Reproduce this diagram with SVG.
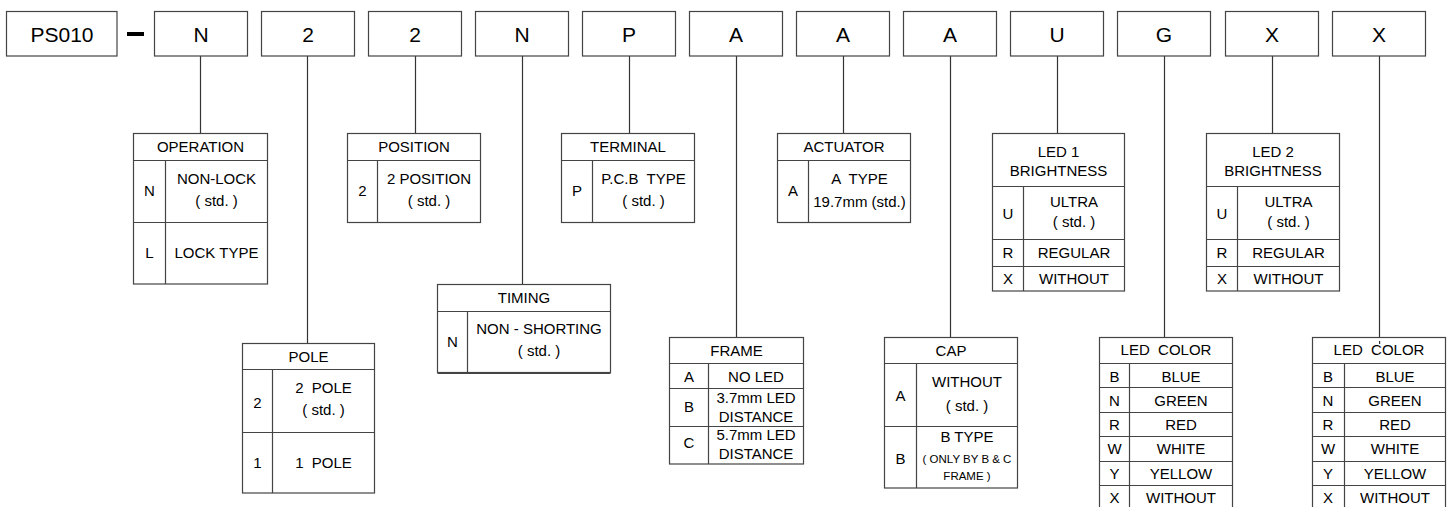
<svg xmlns="http://www.w3.org/2000/svg" width="1454" height="507" viewBox="0 0 1454 507">
<style>
text{font-family:"Liberation Sans",Arial,sans-serif;fill:#000;text-anchor:middle}
.big{font-size:21px}
.t{font-size:15px}
.s{font-size:11.5px}
.box{fill:#fff;stroke:#444;stroke-width:1.2}
.ln{stroke:#444;stroke-width:1.2;fill:none}
.cn{stroke:#333;stroke-width:1.2;fill:none}
</style>
<rect width="1454" height="507" fill="#fff"/>
<g id="connectors">
<line class="cn" x1="200.5" y1="56" x2="200.5" y2="133.5"/>
<line class="cn" x1="307.5" y1="56" x2="307.5" y2="343.5"/>
<line class="cn" x1="415.5" y1="56" x2="415.5" y2="133.5"/>
<line class="cn" x1="522.5" y1="56" x2="522.5" y2="284.5"/>
<line class="cn" x1="629.5" y1="56" x2="629.5" y2="133.5"/>
<line class="cn" x1="736.5" y1="56" x2="736.5" y2="337.5"/>
<line class="cn" x1="843.5" y1="56" x2="843.5" y2="133.5"/>
<line class="cn" x1="950.5" y1="56" x2="950.5" y2="337.5"/>
<line class="cn" x1="1057.5" y1="56" x2="1057.5" y2="133.5"/>
<line class="cn" x1="1164.5" y1="56" x2="1164.5" y2="337.5"/>
<line class="cn" x1="1272.5" y1="56" x2="1272.5" y2="133.5"/>
<line class="cn" x1="1379.5" y1="56" x2="1379.5" y2="337.5"/>
</g>
<g id="code">
<rect class="box" x="6.5" y="11.5" width="110.5" height="44.5"/><text class="big" x="62" y="42">PS010</text>
<rect x="127" y="32" width="17" height="4" fill="#000"/>
<g id="c1"><rect class="box" x="154.5" y="11.5" width="93" height="44.5"/><text class="big" x="201" y="42">N</text></g>
<g id="c2"><rect class="box" x="261.5" y="11.5" width="93" height="44.5"/><text class="big" x="308" y="42">2</text></g>
<g id="c3"><rect class="box" x="368.5" y="11.5" width="93" height="44.5"/><text class="big" x="415" y="42">2</text></g>
<g id="c4"><rect class="box" x="475.5" y="11.5" width="93" height="44.5"/><text class="big" x="522" y="42">N</text></g>
<g id="c5"><rect class="box" x="582.5" y="11.5" width="93" height="44.5"/><text class="big" x="629" y="42">P</text></g>
<g id="c6"><rect class="box" x="689.5" y="11.5" width="93" height="44.5"/><text class="big" x="736" y="42">A</text></g>
<g id="c7"><rect class="box" x="796.5" y="11.5" width="93" height="44.5"/><text class="big" x="843" y="42">A</text></g>
<g id="c8"><rect class="box" x="903.5" y="11.5" width="93" height="44.5"/><text class="big" x="950" y="42">A</text></g>
<g id="c9"><rect class="box" x="1010.5" y="11.5" width="93" height="44.5"/><text class="big" x="1057" y="42">U</text></g>
<g id="c10"><rect class="box" x="1117.5" y="11.5" width="93" height="44.5"/><text class="big" x="1164" y="42">G</text></g>
<g id="c11"><rect class="box" x="1225.5" y="11.5" width="93" height="44.5"/><text class="big" x="1272" y="42">X</text></g>
<g id="c12"><rect class="box" x="1332.5" y="11.5" width="93" height="44.5"/><text class="big" x="1379" y="42">X</text></g>
</g>
<g id="operation">
<rect class="box" x="133.5" y="133.5" width="134" height="150.5"/>
<path class="ln" d="M133.5 160.5H267.5M133.5 222.5H267.5M165.5 160.5V284"/>
<text class="t" x="200.5" y="152">OPERATION</text>
<text class="t" x="149.5" y="196">N</text><text class="t" x="216.5" y="184">NON-LOCK</text><text class="t" x="216.5" y="206">( std. )</text>
<text class="t" x="149.5" y="258">L</text><text class="t" x="216.5" y="258">LOCK TYPE</text>
</g>
<g id="position">
<rect class="box" x="347.5" y="133.5" width="133" height="89"/>
<path class="ln" d="M347.5 160.5H480.5M377.5 160.5V222.5"/>
<text class="t" x="414" y="152">POSITION</text>
<text class="t" x="362.5" y="196">2</text><text class="t" x="429" y="184">2 POSITION</text><text class="t" x="429" y="206">( std. )</text>
</g>
<g id="pole">
<rect class="box" x="242.5" y="343.5" width="132" height="149.5"/>
<path class="ln" d="M242.5 369.5H374.5M242.5 432.5H374.5M272.5 369.5V493"/>
<text class="t" x="308.5" y="362">POLE</text>
<text class="t" x="257.5" y="408">2</text><text class="t" x="323.5" y="393" xml:space="preserve">2  POLE</text><text class="t" x="323.5" y="415">( std. )</text>
<text class="t" x="257.5" y="468">1</text><text class="t" x="323.5" y="468" xml:space="preserve">1  POLE</text>
</g>
<g id="timing">
<rect class="box" x="437.5" y="284.5" width="173" height="88"/>
<path class="ln" d="M437.5 311.5H610.5M467.5 311.5V372.5M437.5 373.5H610.5"/>
<text class="t" x="524" y="303">TIMING</text>
<text class="t" x="452.5" y="347">N</text><text class="t" x="539" y="334">NON - SHORTING</text><text class="t" x="539" y="356">( std. )</text>
</g>
<g id="terminal">
<rect class="box" x="561.5" y="133.5" width="133" height="89"/>
<path class="ln" d="M561.5 160.5H694.5M592.5 160.5V222.5"/>
<text class="t" x="628" y="152">TERMINAL</text>
<text class="t" x="577" y="196">P</text><text class="t" x="643.5" y="184" xml:space="preserve">P.C.B  TYPE</text><text class="t" x="643.5" y="206">( std. )</text>
</g>
<g id="actuator">
<rect class="box" x="777.5" y="133.5" width="133" height="89"/>
<path class="ln" d="M777.5 160.5H910.5M808.5 160.5V222.5"/>
<text class="t" x="844" y="152">ACTUATOR</text>
<text class="t" x="793" y="196">A</text><text class="t" x="859.5" y="184" xml:space="preserve">A  TYPE</text><text class="t" x="859.5" y="207">19.7mm (std.)</text>
</g>
<g id="frame">
<rect class="box" x="669.5" y="337.5" width="134" height="126.5"/>
<path class="ln" d="M669.5 363.5H803.5M669.5 388.5H803.5M669.5 426.5H803.5M708.5 363.5V464"/>
<text class="t" x="736.5" y="356">FRAME</text>
<text class="t" x="689" y="382">A</text><text class="t" x="756" y="382">NO LED</text>
<text class="t" x="689" y="412">B</text><text class="t" x="756" y="403">3.7mm LED</text><text class="t" x="756" y="422">DISTANCE</text>
<text class="t" x="689" y="448">C</text><text class="t" x="756" y="440">5.7mm LED</text><text class="t" x="756" y="459">DISTANCE</text>
</g>
<g id="cap">
<rect class="box" x="884.5" y="337.5" width="133" height="150.5"/>
<path class="ln" d="M884.5 363.5H1017.5M884.5 426.5H1017.5M916.5 363.5V488"/>
<text class="t" x="951" y="356">CAP</text>
<text class="t" x="900.5" y="401">A</text><text class="t" x="967" y="387">WITHOUT</text><text class="t" x="967" y="411">( std. )</text>
<text class="t" x="900.5" y="464">B</text><text class="t" x="967" y="442">B TYPE</text><text class="s" x="967" y="463">( ONLY BY B &amp; C</text><text class="s" x="967" y="480">FRAME )</text>
</g>
<g id="led1">
<rect class="box" x="992.5" y="133.5" width="132" height="157.5"/>
<path class="ln" d="M992.5 186.5H1124.5M992.5 239.5H1124.5M992.5 266.5H1124.5M1023.5 186.5V291"/>
<text class="t" x="1058.5" y="157">LED 1</text><text class="t" x="1058.5" y="176">BRIGHTNESS</text>
<text class="t" x="1008" y="219">U</text><text class="t" x="1074" y="207">ULTRA</text><text class="t" x="1074" y="227">( std. )</text>
<text class="t" x="1008" y="258">R</text><text class="t" x="1074" y="258">REGULAR</text>
<text class="t" x="1008" y="284">X</text><text class="t" x="1074" y="284">WITHOUT</text>
</g>
<g id="led2">
<rect class="box" x="1206.5" y="133.5" width="133" height="157.5"/>
<path class="ln" d="M1206.5 186.5H1339.5M1206.5 239.5H1339.5M1206.5 266.5H1339.5M1237.5 186.5V291"/>
<text class="t" x="1273" y="157">LED 2</text><text class="t" x="1273" y="176">BRIGHTNESS</text>
<text class="t" x="1222" y="219">U</text><text class="t" x="1288.5" y="207">ULTRA</text><text class="t" x="1288.5" y="227">( std. )</text>
<text class="t" x="1222" y="258">R</text><text class="t" x="1288.5" y="258">REGULAR</text>
<text class="t" x="1222" y="284">X</text><text class="t" x="1288.5" y="284">WITHOUT</text>
</g>
<g id="ledcolor1">
<rect class="box" x="1099.5" y="337.5" width="133" height="180"/>
<path class="ln" d="M1099.5 363.5H1232.5M1099.5 387.5H1232.5M1099.5 412.5H1232.5M1099.5 436.5H1232.5M1099.5 461.5H1232.5M1099.5 485.5H1232.5M1129.5 363.5V517"/>
<text class="t" x="1166" y="355" xml:space="preserve">LED  COLOR</text>
<text class="t" x="1114.5" y="382">B</text><text class="t" x="1181" y="382">BLUE</text>
<text class="t" x="1114.5" y="406">N</text><text class="t" x="1181" y="406">GREEN</text>
<text class="t" x="1114.5" y="430">R</text><text class="t" x="1181" y="430">RED</text>
<text class="t" x="1114.5" y="454">W</text><text class="t" x="1181" y="454">WHITE</text>
<text class="t" x="1114.5" y="479">Y</text><text class="t" x="1181" y="479">YELLOW</text>
<text class="t" x="1114.5" y="503">X</text><text class="t" x="1181" y="503">WITHOUT</text>
</g>
<g id="ledcolor2">
<rect class="box" x="1312.5" y="337.5" width="133" height="180"/>
<path class="ln" d="M1312.5 363.5H1445.5M1312.5 387.5H1445.5M1312.5 412.5H1445.5M1312.5 436.5H1445.5M1312.5 461.5H1445.5M1312.5 485.5H1445.5M1344.5 363.5V517"/>
<rect x="1379" y="341" width="1.2" height="3" fill="#333"/>
<text class="t" x="1379" y="355" xml:space="preserve">LED  COLOR</text>
<text class="t" x="1328" y="382">B</text><text class="t" x="1395" y="382">BLUE</text>
<text class="t" x="1328" y="406">N</text><text class="t" x="1395" y="406">GREEN</text>
<text class="t" x="1328" y="430">R</text><text class="t" x="1395" y="430">RED</text>
<text class="t" x="1328" y="454">W</text><text class="t" x="1395" y="454">WHITE</text>
<text class="t" x="1328" y="479">Y</text><text class="t" x="1395" y="479">YELLOW</text>
<text class="t" x="1328" y="503">X</text><text class="t" x="1395" y="503">WITHOUT</text>
</g>
</svg>
